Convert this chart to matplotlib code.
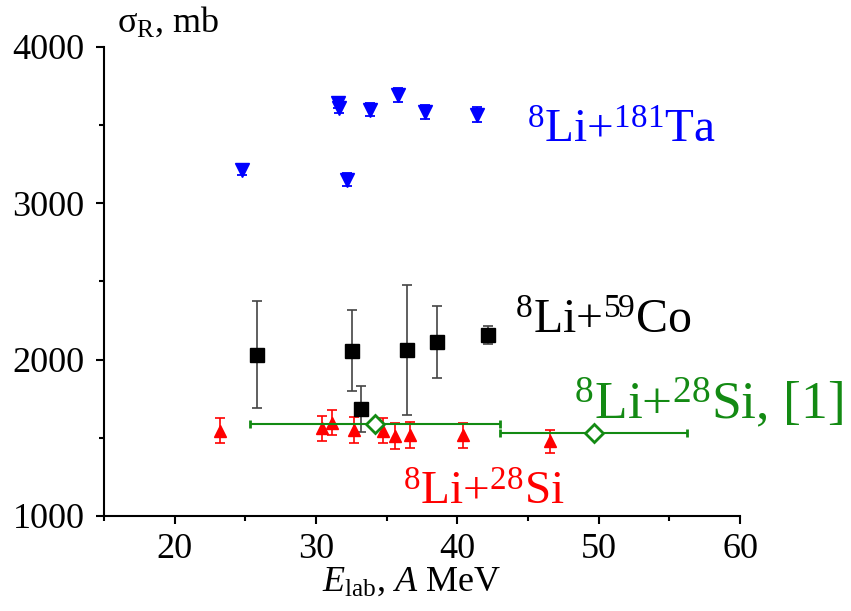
import matplotlib
matplotlib.use("Agg")
import matplotlib.pyplot as plt
from matplotlib.ticker import MultipleLocator

plt.rcParams.update({
    "font.family": "Liberation Serif",
    "mathtext.fontset": "custom",
    "mathtext.rm": "Liberation Serif",
    "mathtext.it": "Liberation Serif:italic",
    "font.size": 26,
})

# 8Li + 181Ta
ta_e = [24.75, 31.55, 31.6, 32.22, 33.82, 35.78, 37.71, 41.37]
ta_s = [3215, 3640, 3610, 3152, 3599, 3693, 3582, 3565]
ta_err = [37, 30, 30, 40, 40, 43, 45, 48]

# 8Li + 59Co
co_e = [25.85, 32.57, 33.19, 36.42, 38.59, 42.17]
co_s = [2032, 2058, 1686, 2062, 2113, 2157]
co_err = [343, 258, 146, 416, 231, 59]

# 8Li + 28Si (this work)
si_e = [23.21, 30.45, 31.11, 32.71, 34.72, 35.59, 36.65, 40.42, 46.56]
si_s = [1545, 1561, 1598, 1550, 1545, 1511, 1519, 1517, 1478]
si_err = [80, 81, 80, 81, 80, 82, 82, 80, 73]

# 8Li + 28Si, ref [1]
ref_e = [34.18, 49.65]
ref_s = [1590, 1530]
ref_xerr = [8.87, 6.6]

fig = plt.figure(figsize=(8.51, 6.11), dpi=100)
ax = fig.add_axes([0.1222, 0.1555, 0.7474, 0.7676])

ax.errorbar(si_e, si_s, yerr=si_err, fmt="^", color="red", ms=9,
            capsize=3.3, elinewidth=1.2, capthick=1.2, zorder=3)
ax.errorbar(ref_e, ref_s, xerr=ref_xerr, fmt="D", color="#138a13", mfc="white",
            mec="#138a13", ms=9, mew=2, capsize=3, elinewidth=1.5, capthick=1.5, zorder=4)
ax.errorbar(co_e, co_s, yerr=co_err, fmt="s", color="black", ecolor="#444444",
            ms=10, capsize=3.3, elinewidth=1.2, capthick=1.2, zorder=3)
ax.errorbar(ta_e, ta_s, yerr=ta_err, fmt="v", color="blue", ms=9.5,
            capsize=3.3, elinewidth=1.3, capthick=1.3, zorder=3)

ax.set_xlim(15, 60)
ax.set_ylim(1000, 4000)
ax.xaxis.set_major_locator(MultipleLocator(10))
ax.xaxis.set_minor_locator(MultipleLocator(5))
ax.yaxis.set_major_locator(MultipleLocator(1000))
ax.yaxis.set_minor_locator(MultipleLocator(500))
for s in ("top", "right"):
    ax.spines[s].set_visible(False)
for s in ("left", "bottom"):
    ax.spines[s].set_linewidth(1.5)
ax.tick_params(which="major", direction="out", length=6, width=1.5, labelsize=26, pad=6)
ax.tick_params(axis="y", which="major", pad=8)
ax.tick_params(which="minor", direction="out", length=3.5, width=1.5)

ax.text(44.93, 3386, r"$^{8}$Li+$^{181}$Ta", color="blue", fontsize=34, va="baseline")
ax.text(44.08, 2171, r"$^{8}$Li+$^{59}$Co", color="black", fontsize=34.5, va="baseline")
ax.text(48.25, 1620, r"$^{8}$Li+$^{28}$Si, [1]", color="#138a13", fontsize=38.5, va="baseline")
ax.text(36.16, 1070, r"$^{8}$Li+$^{28}$Si", color="red", fontsize=34, va="baseline")

ax.text(0.02, 1.032, r"$\mathrm{σ}_{\mathrm{R}}$, mb", transform=ax.transAxes,
        fontsize=26, va="baseline")
ax.set_xlabel(r"$E_{\mathrm{lab}}$, $A$ MeV", fontsize=26, labelpad=0, x=0.483)

fig.savefig("out.png", dpi=100, facecolor="white")
